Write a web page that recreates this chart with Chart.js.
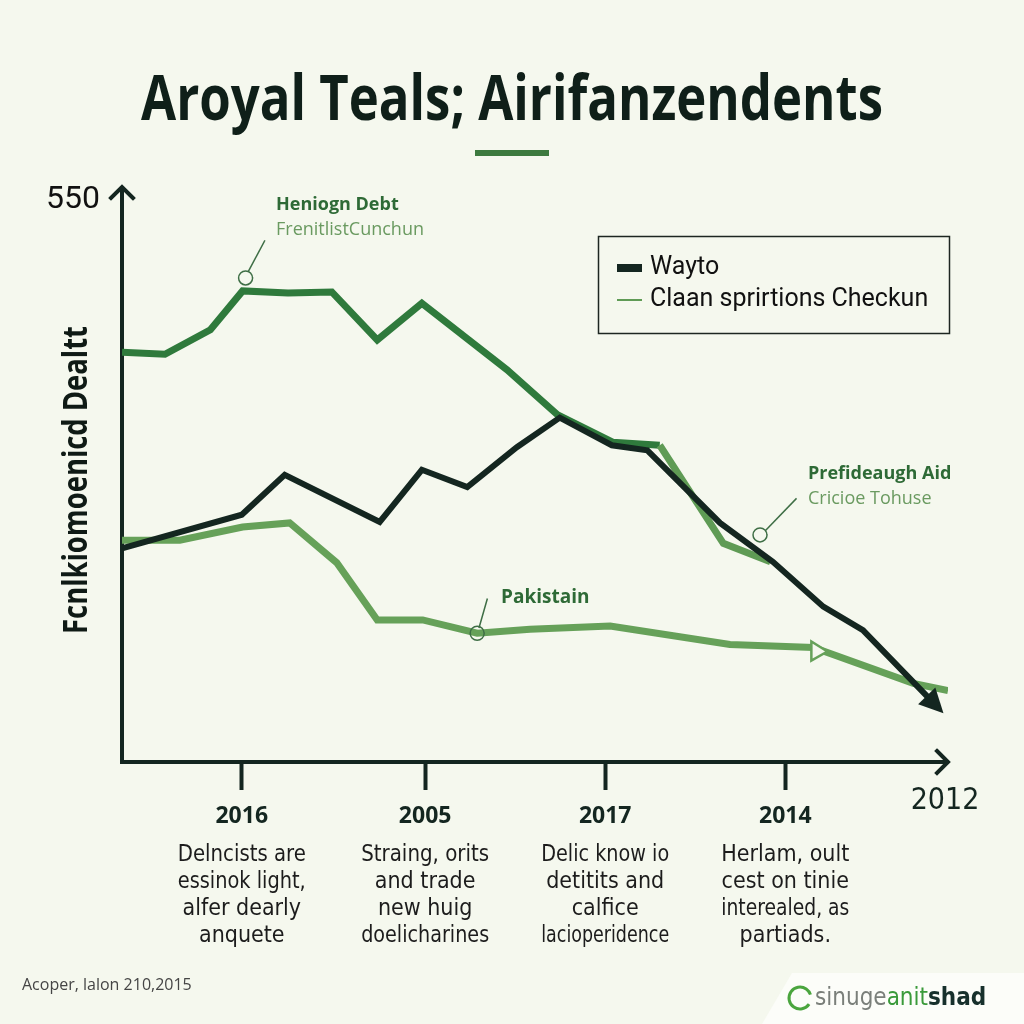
<!DOCTYPE html>
<html>
<head>
<meta charset="utf-8">
<script src="https://cdn.jsdelivr.net/npm/chart.js@4"></script>
<style>
  html, body { margin: 0; padding: 0; background: #f5f8ee; }
  #wrap { position: relative; width: 1024px; height: 1024px; }
</style>
</head>
<body>
<div id="wrap"><canvas id="graph" width="1024" height="1024"></canvas></div>
<script>
'use strict';

// データ（x は 0〜100 の横位置、y は 0〜550）
let wayX      = [0, 14.5, 19.7, 31.2, 36.3, 41.8, 47.8, 53.0, 59.3, 63.6, 72.4, 78.8, 84.9, 89.7, 98.1];
let wayY      = [209, 242, 281, 235, 286, 269, 308, 337, 310, 305, 234, 196, 152, 129, 59];
let debtX     = [0, 5.2, 10.7, 14.6, 20.1, 25.4, 30.9, 36.3, 46.6, 52.7, 59.4, 65.1, 72.8, 78.5];
let debtY     = [401, 399, 423, 461, 459, 460, 413, 449, 384, 340, 313, 310, 214, 196];
let pakX      = [0, 7.0, 14.6, 20.3, 26.0, 30.9, 36.4, 43.0, 49.4, 59.1, 73.6, 83.7, 95.8, 100];
let pakY      = [217, 217, 230, 234, 195, 139, 139, 126, 130, 133, 115, 112, 77, 70];

let tickVals  = [14.5, 36.7, 58.5, 80.3];
let tickNames = ['2016', '2005', '2017', '2014'];
let endLabel  = '2012';
let notes = [
  ['Delncists are', 'essinok light,', 'alfer dearly', 'anquete'],
  ['Straing, orits', 'and trade', 'new huig', 'doelicharines'],
  ['Delic know io', 'detitits and', 'calfice', 'lacioperidence'],
  ['Herlam, oult', 'cest on tinie', 'interealed, as', 'partiads.']
];

const DARK = '#142620';
const GREEN = '#2f7a3c';
const GREEN2 = '#5f9b55';
const LIGHT = '#66a159';
const NARROW = '"Liberation Sans Narrow", "DejaVu Sans Condensed", "Roboto", sans-serif';

function pts(xs, ys) {
  return xs.map((x, i) => ({x: x, y: ys[i]}));
}

// 軸の矢印・注釈・凡例などを描くプラグイン
const decor = {
  id: 'decor',
  beforeDraw(chart) {
    const c = chart.ctx;
    c.save();
    c.fillStyle = '#f5f8ee';
    c.fillRect(0, 0, chart.width, chart.height);
    // ロゴの背景
    c.fillStyle = '#fcfdf9';
    c.beginPath();
    c.moveTo(792, 973); c.lineTo(1024, 973); c.lineTo(1024, 1024); c.lineTo(762, 1024);
    c.closePath(); c.fill();
    c.restore();
  },
  afterDatasetsDraw(chart) {
    const c = chart.ctx;
    const a = chart.chartArea;
    c.save();
    // 軸の矢印
    c.strokeStyle = DARK; c.lineWidth = 4; c.lineCap = 'square';
    c.beginPath();
    c.moveTo(a.left - 11, a.top - 2); c.lineTo(a.left, a.top - 13); c.lineTo(a.left + 11, a.top - 2);
    c.moveTo(a.left, a.top - 12); c.lineTo(a.left, a.top);
    c.moveTo(a.right - 11, a.bottom - 11); c.lineTo(a.right, a.bottom); c.lineTo(a.right - 11, a.bottom + 11);
    c.stroke();

    // 黒線の先端の矢印
    const wm = chart.getDatasetMeta(0).data;
    const p1 = wm[wm.length - 2], p2 = wm[wm.length - 1];
    let dx = p2.x - p1.x, dy = p2.y - p1.y;
    const len = Math.hypot(dx, dy); dx /= len; dy /= len;
    const tip = {x: p2.x + dx * 16, y: p2.y + dy * 16};
    const base = {x: p2.x - dx * 8, y: p2.y - dy * 8};
    c.fillStyle = DARK;
    c.beginPath();
    c.moveTo(tip.x, tip.y);
    c.lineTo(base.x - dy * 12, base.y + dx * 12);
    c.lineTo(base.x + dy * 12, base.y - dx * 12);
    c.closePath(); c.fill();

    // 薄緑線の白抜き矢印
    const pm = chart.getDatasetMeta(2).data[11];
    c.fillStyle = '#f5f8ee'; c.strokeStyle = LIGHT; c.lineWidth = 2.5; c.lineJoin = 'miter';
    c.beginPath();
    c.moveTo(pm.x + 14, pm.y + 4); c.lineTo(pm.x - 2, pm.y - 6); c.lineTo(pm.x - 2, pm.y + 13);
    c.closePath(); c.fill(); c.stroke();

    // 注釈
    c.strokeStyle = '#3e6e45'; c.lineWidth = 1.5;
    function leader(x0, y0, x1, y1, cx, cy) {
      c.beginPath(); c.moveTo(x0, y0); c.lineTo(x1, y1); c.stroke();
      c.beginPath(); c.arc(cx, cy, 7, 0, Math.PI * 2); c.stroke();
    }
    const h = chart.getDatasetMeta(1).data[3];
    leader(h.x + 22, h.y - 50, h.x + 6, h.y - 20, h.x + 3, h.y - 13);
    const k = chart.getDatasetMeta(2).data[7];
    leader(k.x + 10, k.y - 34, k.x + 2, k.y - 6, k.x, k.y);
    const w = chart.getDatasetMeta(0).data[10];
    leader(w.x + 76, w.y - 24, w.x + 46, w.y + 7, w.x + 40, w.y + 12);

    c.textAlign = 'left'; c.textBaseline = 'middle';
    c.fillStyle = '#2e6a36';
    c.font = 'bold 18px "Open Sans", sans-serif';
    c.fillText('Heniogn Debt', 276, 205, 128);
    c.fillText('Prefideaugh Aid', 808, 474, 168);
    c.font = 'bold 19px "Open Sans", sans-serif';
    c.fillText('Pakistain', 501, 598, 98);
    c.fillStyle = '#6a9a60';
    c.font = '18px "Open Sans", sans-serif';
    c.fillText('FrenitlistCunchun', 276, 230, 170);
    c.fillText('Cricioe Tohuse', 808, 499, 138);

    c.restore();
  },
  afterDraw(chart) {
    const c = chart.ctx;
    const xs = chart.scales.x;
    c.save();
    // タイトル
    c.fillStyle = '#0f1f19';
    c.textAlign = 'center'; c.textBaseline = 'alphabetic';
    c.font = 'bold 62px "Open Sans", "DejaVu Sans Condensed", sans-serif';
    c.fillText('Aroyal Teals; Airifanzendents', 512, 120, 742);
    c.fillStyle = '#3d7a3f';
    c.fillRect(475, 150, 74, 6);

    // 縦軸タイトル
    c.save();
    c.translate(77, 480);
    c.rotate(-Math.PI / 2);
    c.textBaseline = 'middle';
    c.font = 'bold 34px "Open Sans", sans-serif';
    c.fillStyle = '#0f1a15';
    c.fillText('Fcnlkiomoenicd Dealtt', 0, 0, 308);
    c.restore();

    // 横軸の端のラベル
    c.fillStyle = DARK;
    c.textBaseline = 'middle';
    c.font = '30px ' + NARROW;
    c.fillText(endLabel, xs.getPixelForValue(100) - 3, 801);

    // 説明文
    c.fillStyle = '#1c1c1c';
    c.font = '23px ' + NARROW;
    notes.forEach((lines, i) => {
      const x = xs.getPixelForValue(tickVals[i]);
      lines.forEach((t, j) => c.fillText(t, x, 855 + j * 27, 128));
    });

    // 凡例
    c.strokeStyle = '#1d2621'; c.lineWidth = 1.5;
    c.strokeRect(598.5, 236.5, 351, 97);
    c.fillStyle = DARK; c.fillRect(617, 264, 25, 8);
    c.fillStyle = '#5f9b55'; c.fillRect(617, 299, 25, 2);
    c.fillStyle = '#111'; c.textAlign = 'left';
    c.font = '25px Roboto, sans-serif';
    c.fillText('Wayto', 650, 268);
    c.fillText('Claan sprirtions Checkun', 650, 300, 298);

    // 出典とロゴ
    c.fillStyle = '#454545';
    c.font = '16px "Open Sans", sans-serif';
    c.fillText('Acoper, lalon 210,2015', 22, 985, 170);
    c.strokeStyle = '#4aa53e'; c.lineWidth = 3;
    c.beginPath(); c.arc(800, 998, 11, 0.6, Math.PI * 1.9); c.stroke();
    c.font = '24px ' + NARROW;
    c.fillStyle = '#7a7f7a'; c.fillText('sinuge', 815, 999);
    let wx = 815 + c.measureText('sinuge').width;
    c.fillStyle = '#3a9a3a'; c.fillText('anit', wx, 999);
    wx += c.measureText('anit').width;
    c.fillStyle = '#17302c'; c.font = 'bold 24px ' + NARROW; c.fillText('shad', wx, 999);
    c.restore();
  }
};

let context = document.querySelector('#graph').getContext('2d');
let chart = new Chart(context, {
  type: 'line',
  data: {
    datasets: [
      {label: 'Wayto', data: pts(wayX, wayY), borderColor: DARK, borderWidth: 6},
      {label: 'Heniogn Debt', data: pts(debtX, debtY), borderColor: GREEN, borderWidth: 7,
       segment: {borderColor: ctx => ctx.p0DataIndex >= 11 ? GREEN2 : GREEN}},
      {label: 'Pakistain', data: pts(pakX, pakY), borderColor: LIGHT, borderWidth: 7}
    ]
  },
  options: {
    responsive: false,
    animation: false,
    elements: {
      line: {tension: 0, borderJoinStyle: 'miter', borderCapStyle: 'butt'},
      point: {radius: 0}
    },
    layout: {padding: {top: 200, right: 76, left: 0, bottom: 0}},
    plugins: {legend: {display: false}, tooltip: {enabled: false}, title: {display: false}},
    scales: {
      x: {
        type: 'linear', min: 0, max: 100,
        afterFit: s => { s.height = 262; },
        afterBuildTicks: s => { s.ticks = tickVals.map(v => ({value: v})); },
        ticks: {
          autoSkip: false, maxRotation: 0, padding: 13,
          color: DARK,
          font: {family: '"Open Sans", sans-serif', size: 23, weight: 'bold'},
          callback: (v, i) => tickNames[i]
        },
        grid: {drawOnChartArea: false, tickLength: 28, tickWidth: 4, tickColor: DARK},
        border: {color: DARK, width: 4}
      },
      y: {
        type: 'linear', min: 0, max: 550,
        afterFit: s => { s.width = 122; },
        afterBuildTicks: s => { s.ticks = [{value: 550}]; },
        ticks: {
          padding: 22, color: '#111',
          font: {family: 'Roboto, sans-serif', size: 32},
          callback: v => String(v)
        },
        grid: {display: false, drawTicks: false},
        border: {color: DARK, width: 4}
      }
    }
  },
  plugins: [decor]
});
</script>
</body>
</html>
